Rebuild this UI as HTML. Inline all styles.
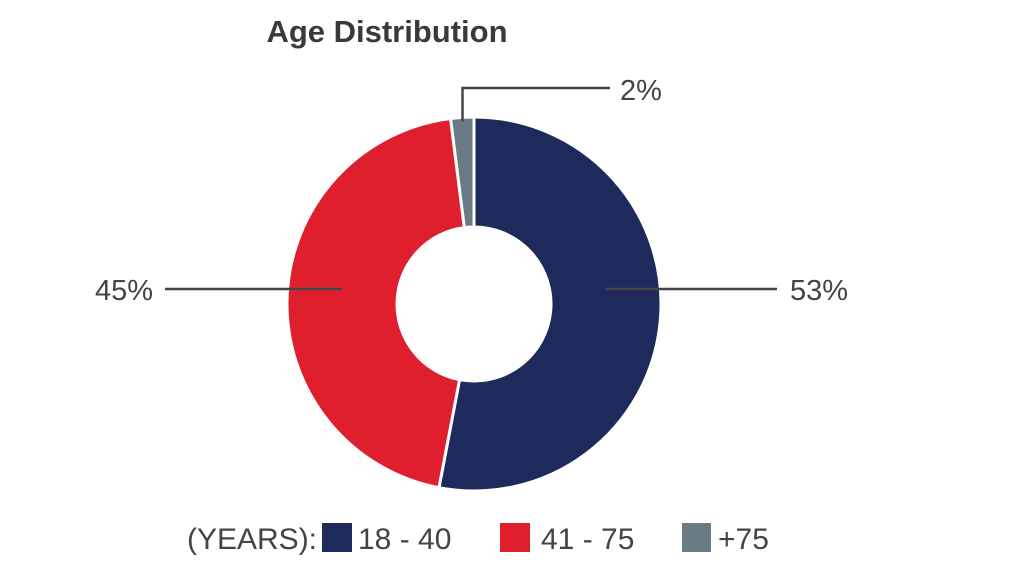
<!DOCTYPE html>
<html><head><meta charset="utf-8"><style>
body{margin:0;width:1009px;height:568px;background:#fff;overflow:hidden;font-family:"Liberation Sans Narrow","Liberation Sans",sans-serif;}
svg{display:block}
</style></head><body>
<svg width="1009" height="568">
<text x="387" y="42" text-anchor="middle" font-family="Liberation Sans, sans-serif" font-weight="bold" font-size="31" fill="#3a3a3a">Age Distribution</text>
<g id="slices"></g>
<g id="labels" font-size="29" fill="#444"></g>
<g font-size="30" fill="#444">
<text x="187" y="549">(YEARS):</text>
<rect x="322" y="523" width="30" height="29" fill="#1f2a5c"/>
<text x="358" y="549">18 - 40</text>
<rect x="500" y="523" width="30" height="29" fill="#e01f2e"/>
<text x="541" y="549">41 - 75</text>
<rect x="682" y="523" width="29" height="29" fill="#6b7b84"/>
<text x="718" y="549">+75</text>
</g>
</svg>
<script>
const categories = ["18 - 40", "41 - 75", "+75"];
const values = [53, 45, 2];
const valueLabels = ["53%", "45%", "2%"];
const colors = ["#1f2a5c", "#e01f2e", "#6b7b84"];
const cx = 474, cy = 304, R = 187, r = 77;
const NS = "http://www.w3.org/2000/svg";
const total = values.reduce((a, b) => a + b, 0);
function pt(a, rad) { return [cx + rad * Math.sin(a), cy - rad * Math.cos(a)]; }
const g = document.getElementById("slices");
const lg = document.getElementById("labels");
let a0 = 0;
values.forEach((v, i) => {
  const a1 = a0 + v / total * 2 * Math.PI;
  const large = (a1 - a0) > Math.PI ? 1 : 0;
  const [x0, y0] = pt(a0, R), [x1, y1] = pt(a1, R), [x2, y2] = pt(a1, r), [x3, y3] = pt(a0, r);
  const p = document.createElementNS(NS, "path");
  p.setAttribute("d", `M${x0},${y0}A${R},${R} 0 ${large} 1 ${x1},${y1}L${x2},${y2}A${r},${r} 0 ${large} 0 ${x3},${y3}Z`);
  p.setAttribute("fill", colors[i]);
  p.setAttribute("stroke", "#fff");
  p.setAttribute("stroke-width", "3");
  
  
  g.appendChild(p);
  const mid = (a0 + a1) / 2;
  const [mx, my] = pt(mid, (R + r) / 2);
  const [ox, oy] = pt(mid, R - 4);
  const line = document.createElementNS(NS, "polyline");
  const t = document.createElementNS(NS, "text");
  let pts;
  if (Math.abs(Math.sin(mid)) > 0.5) {
    const right = Math.sin(mid) > 0;
    const ex = right ? 777 : 165;
    pts = `${mx},${cy - 15} ${ex},${cy - 15}`;
    t.setAttribute("x", right ? 790 : 153);
    t.setAttribute("y", cy - 4);
    t.setAttribute("text-anchor", right ? "start" : "end");
  } else {
    pts = `${ox},${oy} ${ox},88 610,88`;
    t.setAttribute("x", 620);
    t.setAttribute("y", 100);
  }
  line.setAttribute("points", pts);
  line.setAttribute("fill", "none");
  line.setAttribute("stroke", "#444");
  line.setAttribute("stroke-width", "2.5");
  
  
  lg.appendChild(line);
  t.textContent = valueLabels[i];
  
  
  lg.appendChild(t);
  a0 = a1;
});
</script>
</body></html>
